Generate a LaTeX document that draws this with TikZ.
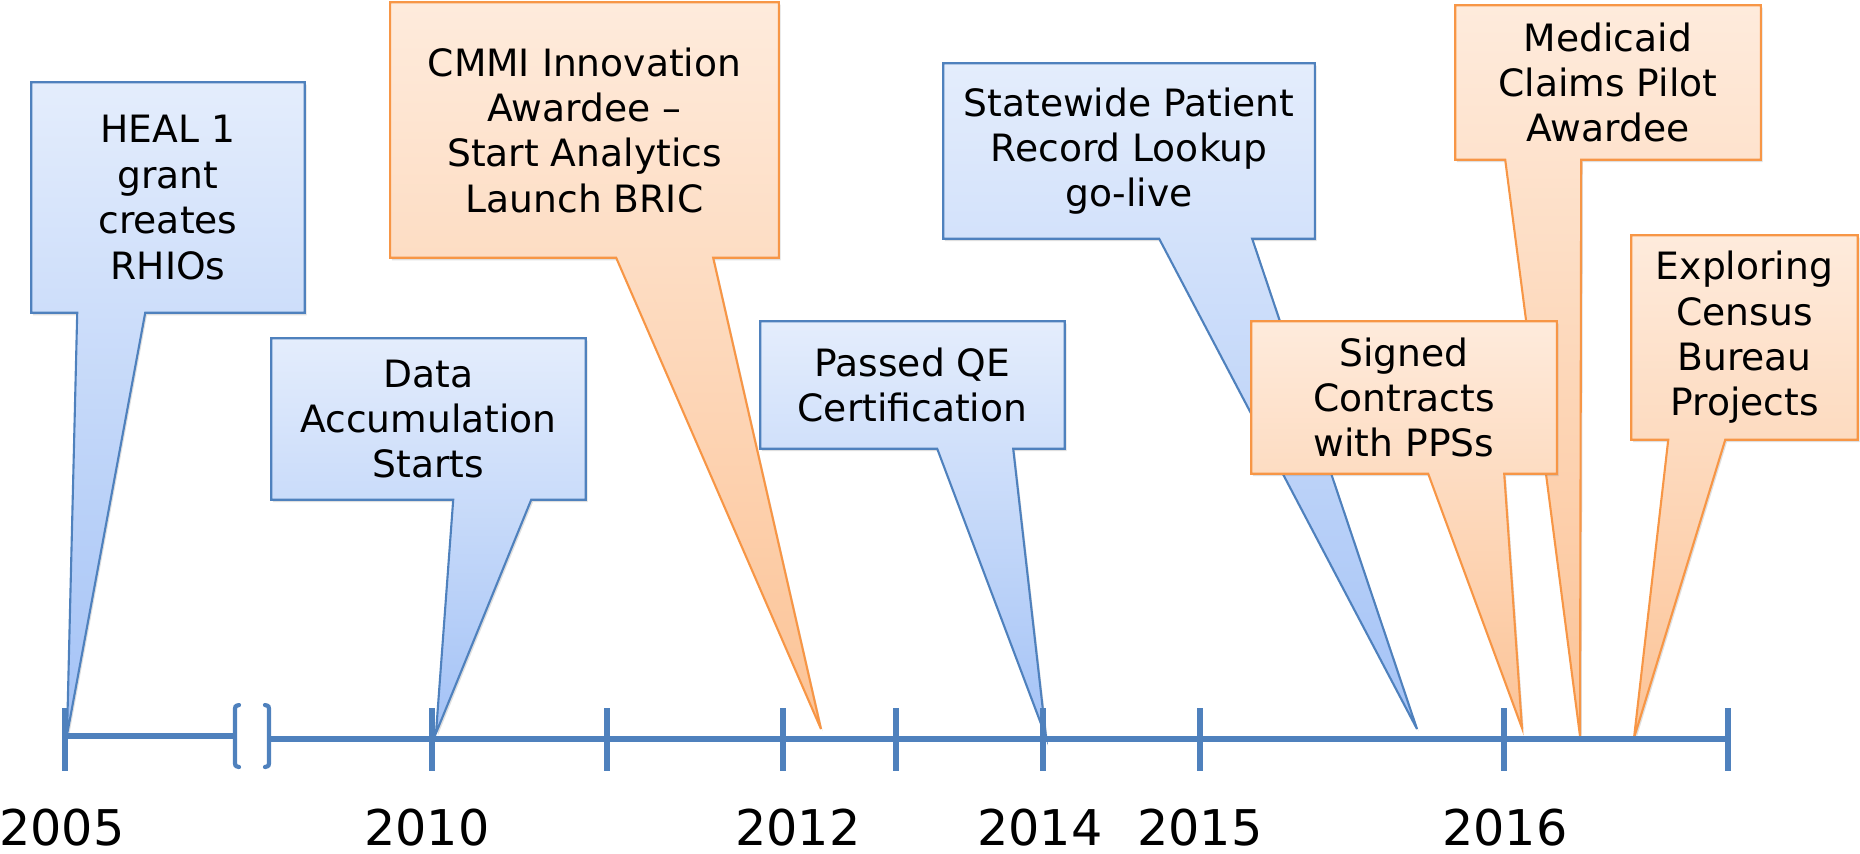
\documentclass[tikz,border=0pt]{standalone}
\usepackage{fontspec}
\setmainfont{DejaVu Sans}
\usetikzlibrary{calc}
\usetikzlibrary{backgrounds}
\usetikzlibrary{shadows}
\definecolor{axisblue}{RGB}{79,129,189}
\definecolor{calloutblue}{RGB}{79,129,189}
\definecolor{bluetop}{RGB}{228,237,252}
\definecolor{bluebottom}{RGB}{163,194,246}
\definecolor{calloutorange}{RGB}{247,150,70}
\definecolor{orangetop}{RGB}{254,235,220}
\definecolor{orangebottom}{RGB}{252,195,150}
\newcommand{\calloutfont}{\fontsize{10.7}{12.9}\selectfont}
\newcommand{\yearfont}{\fontsize{14}{16}\selectfont}
% #1 box node, #2 style, #3 and #4 pointer base offsets from the left side, #5 tip
\newcommand{\drawcallout}[5]{%
    \path[#2] (#1.north west) -- (#1.north east) -- (#1.south east)
        -- ($(#1.south west)+(#4,0)$) -- (#5) -- ($(#1.south west)+(#3,0)$)
        -- (#1.south west) -- cycle;}
\tikzset{
    callout/.style={line width=0.6pt, line join=miter,
        drop shadow={shadow xshift=0.5pt, shadow yshift=-0.7pt, opacity=0.25}},
    bluecall/.style={callout, draw=calloutblue, top color=bluetop, bottom color=bluebottom},
    orangecall/.style={callout, draw=calloutorange, top color=orangetop, bottom color=orangebottom},
    boxtext/.style={inner sep=0pt, align=center, font=\calloutfont},
    axisline/.style={draw=axisblue, line width=1.7pt},
    yeartick/.style={draw=axisblue, line width=1.7pt},
    breakmark/.style={draw=axisblue, line width=1.2pt, line cap=round},
    yearlabel/.style={anchor=base, inner sep=0pt, font=\yearfont}
}
\begin{document}
\begin{tikzpicture}[x=0.01cm, y=-0.01cm]
    \useasboundingbox (0,0) rectangle (1860,853);

    \node[boxtext, minimum width=2.72cm, minimum height=2.29cm] (heal) at (168,197.5) {HEAL 1\\grant\\creates\\RHIOs};
    \node[boxtext, minimum width=3.13cm, minimum height=1.60cm] (data) at (428.5,419) {Data\\Accumulation\\Starts};
    \node[boxtext, minimum width=3.87cm, minimum height=2.54cm] (cmmi) at (584.5,130) {CMMI Innovation\\Awardee --\\Start Analytics\\Launch BRIC};
    \node[boxtext, minimum width=3.03cm, minimum height=1.26cm] (qe) at (912.5,385) {Passed QE\\Certification};
    \node[boxtext, minimum width=3.70cm, minimum height=1.74cm] (lookup) at (1129,151) {Statewide Patient\\Record Lookup\\go-live};
    \node[boxtext, minimum width=3.04cm, minimum height=1.51cm] (pps) at (1404,397.5) {Signed\\Contracts\\with PPSs};
    \node[boxtext, minimum width=3.04cm, minimum height=1.53cm] (medicaid) at (1608,82.5) {Medicaid\\Claims Pilot\\Awardee};
    \node[boxtext, minimum width=2.25cm, minimum height=2.03cm] (census) at (1744.5,337.5) {Exploring\\Census\\Bureau\\Projects};

    \coordinate (heal-tip) at (67,735);
    \coordinate (data-tip) at (436,733);
    \coordinate (cmmi-tip) at (821,729);
    \coordinate (qe-tip) at (1046,737);
    \coordinate (lookup-tip) at (1417,729);
    \coordinate (pps-tip) at (1522,728);
    \coordinate (medicaid-tip) at (1580,736);
    \coordinate (census-tip) at (1634,738);

    \begin{scope}[on background layer]
        \drawcallout{heal}{bluecall}{46}{114}{heal-tip}
        \drawcallout{cmmi}{orangecall}{226}{323}{cmmi-tip}
        \drawcallout{data}{bluecall}{182}{260}{data-tip}
        \drawcallout{qe}{bluecall}{177}{253}{qe-tip}
        \drawcallout{lookup}{bluecall}{216}{309}{lookup-tip}
        \drawcallout{medicaid}{orangecall}{50}{126}{medicaid-tip}
        \drawcallout{census}{orangecall}{37}{94}{census-tip}
        \drawcallout{pps}{orangecall}{177}{253}{pps-tip}
    \end{scope}

    % time axis with a break after 2005
    \coordinate (axis-start) at (65,736);
    \coordinate (break-left) at (235,736);
    \coordinate (break-right) at (269,739);
    \coordinate (axis-end) at (1728,739);
    \draw[axisline] (axis-start) -- (break-left);
    \draw[axisline] (break-right) -- (axis-end);
    \draw[breakmark] (239,705) .. controls (235,706) .. (235,712) -- (235,760) .. controls (235,766) .. (239,767);
    \draw[breakmark] (265,705) .. controls (269,706) .. (269,712) -- (269,760) .. controls (269,766) .. (265,767);
    \foreach \x in {65,432,607,783,896,1043,1200,1504,1728}
        \draw[yeartick] (\x,708) -- (\x,771);

    \node[yearlabel] (y2005) at (62,845) {2005};
    \node[yearlabel] (y2010) at (427,845) {2010};
    \node[yearlabel] (y2012) at (798,845) {2012};
    \node[yearlabel] (y2014) at (1040,845) {2014};
    \node[yearlabel] (y2015) at (1200,845) {2015};
    \node[yearlabel] (y2016) at (1505,845) {2016};
\end{tikzpicture}
\end{document}
